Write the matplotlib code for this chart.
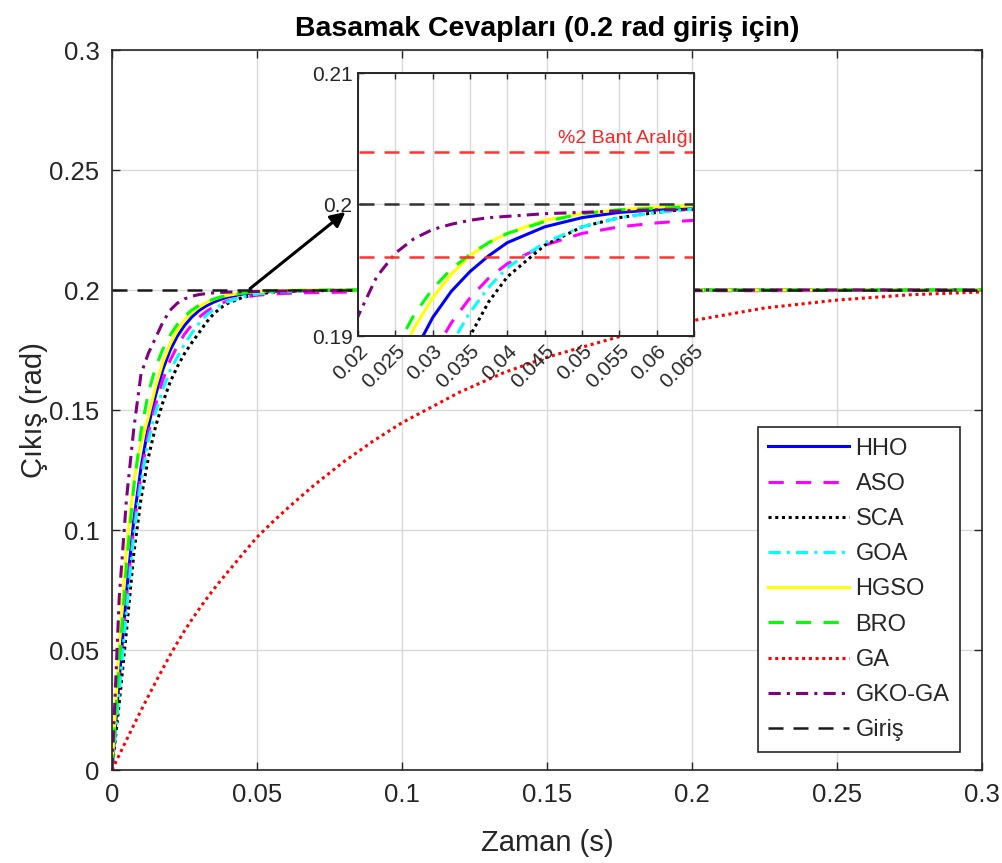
import matplotlib
matplotlib.use("Agg")
import matplotlib.pyplot as plt

plt.rcParams['font.family'] = ['Liberation Sans', 'DejaVu Sans']

# ---- data ----
t = [0, 0.0025, 0.005, 0.0075, 0.01, 0.0125, 0.015, 0.0175, 0.02, 0.0225,
     0.025, 0.0275, 0.03, 0.0325, 0.035, 0.0375, 0.04, 0.045, 0.05, 0.055,
     0.06, 0.065, 0.07, 0.08, 0.09, 0.1, 0.12, 0.135, 0.15, 0.175, 0.2,
     0.225, 0.25, 0.275, 0.3]

hho = [0, 0.038, 0.074, 0.104, 0.126, 0.143, 0.156, 0.1668, 0.1748, 0.1807,
       0.1852, 0.1887, 0.1914, 0.1934, 0.1949, 0.1961, 0.1971, 0.1983, 0.1990, 0.1994,
       0.1996, 0.1997, 0.1998, 0.1999, 0.2, 0.2, 0.2, 0.2, 0.2, 0.2, 0.2,
       0.2, 0.2, 0.2, 0.2]
aso = [0, 0.037, 0.072, 0.101, 0.123, 0.140, 0.152, 0.1625, 0.1705, 0.1766,
       0.1816, 0.1854, 0.1886, 0.1910, 0.1929, 0.1944, 0.1955, 0.1969, 0.1978, 0.1983,
       0.1986, 0.1988, 0.1989, 0.1991, 0.1992, 0.1993, 0.1994, 0.1995, 0.1996, 0.1996, 0.1997,
       0.1997, 0.1998, 0.1998, 0.1998]
sca = [0, 0.028, 0.058, 0.090, 0.113, 0.130, 0.143, 0.153, 0.1615, 0.168,
       0.1735, 0.178, 0.1822, 0.1865, 0.1900, 0.1926, 0.1945, 0.1969, 0.1983, 0.1990,
       0.1994, 0.1997, 0.1998, 0.1999, 0.2, 0.2, 0.2, 0.2, 0.2, 0.2, 0.2,
       0.2, 0.2, 0.2, 0.2]
goa = [0, 0.033, 0.066, 0.098, 0.120, 0.137, 0.149, 0.1585, 0.1665, 0.172,
       0.1775, 0.182, 0.1861, 0.1894, 0.1918, 0.1937, 0.1952, 0.1971, 0.1983, 0.1990,
       0.1994, 0.19965, 0.1998, 0.1999, 0.2, 0.2, 0.2, 0.2, 0.2, 0.2, 0.2,
       0.2, 0.2, 0.2, 0.2]
hgso = [0, 0.052, 0.092, 0.120, 0.136, 0.147, 0.1596, 0.1698, 0.1774, 0.1831,
        0.1874, 0.1906, 0.1929, 0.1947, 0.1961, 0.1971, 0.1978, 0.1988, 0.1993, 0.1996,
        0.1998, 0.1999, 0.2, 0.2, 0.2, 0.2, 0.2, 0.2, 0.2, 0.2, 0.2,
        0.2, 0.2, 0.2, 0.2]
bro = [0, 0.045, 0.086, 0.118, 0.141, 0.157, 0.1677, 0.1753, 0.1811, 0.1856,
       0.1890, 0.1916, 0.1936, 0.1951, 0.1962, 0.1971, 0.1978, 0.1987, 0.1993, 0.1996,
       0.1997, 0.19985, 0.1999, 0.2, 0.2, 0.2, 0.2, 0.2, 0.2, 0.2, 0.2,
       0.2, 0.2, 0.2, 0.2]
ga = [0, 0.0063, 0.0125, 0.0187, 0.0248, 0.0307, 0.0365, 0.0422, 0.0478, 0.0530,
      0.0580, 0.0626, 0.0670, 0.0712, 0.0752, 0.0790, 0.0826, 0.0899, 0.0970, 0.1029,
      0.1085, 0.1138, 0.1190, 0.1285, 0.1370, 0.1447, 0.1575, 0.1655, 0.1720, 0.1806, 0.1872,
      0.1925, 0.1958, 0.1980, 0.1992]
gkoga = [0, 0.072, 0.113, 0.142, 0.165, 0.1735, 0.1800, 0.1865, 0.1915, 0.1945,
         0.1963, 0.1974, 0.1981, 0.1985, 0.1988, 0.1990, 0.1991, 0.1993, 0.1994, 0.1995,
         0.1996, 0.1996, 0.1997, 0.1998, 0.1999, 0.1999, 0.2, 0.2, 0.2, 0.2, 0.2,
         0.2, 0.2, 0.2, 0.2]
input_t = [0, 0.3]
input_y = [0.2, 0.2]

band_low, band_high = 0.196, 0.204

names = ['HHO', 'ASO', 'SCA', 'GOA', 'HGSO', 'BRO', 'GA', 'GKO-GA', 'Giriş']
series = [hho, aso, sca, goa, hgso, bro, ga, gkoga]
colors = ['#0000ff', '#ff00ff', '#000000', '#00ffff', '#ffff00', '#00ff00',
          '#ff0000', '#800080']
styles = ['-', (0, (5, 4)), (0, (1, 1.2)), (0, (4, 2, 1, 2)), '-', (0, (5, 4)),
          (0, (1, 1.2)), (0, (4, 2, 1, 2))]

main_xticks = [0, 0.05, 0.1, 0.15, 0.2, 0.25, 0.3]
main_xlabels = ['0', '0.05', '0.1', '0.15', '0.2', '0.25', '0.3']
main_yticks = [0, 0.05, 0.1, 0.15, 0.2, 0.25, 0.3]
main_ylabels = ['0', '0.05', '0.1', '0.15', '0.2', '0.25', '0.3']
ins_xticks = [0.02, 0.025, 0.03, 0.035, 0.04, 0.045, 0.05, 0.055, 0.06, 0.065]
ins_xlabels = ['0.02', '0.025', '0.03', '0.035', '0.04', '0.045', '0.05', '0.055', '0.06', '0.065']
ins_yticks = [0.19, 0.2, 0.21]
ins_ylabels = ['0.19', '0.2', '0.21']

TXT = '#262626'

fig = plt.figure(figsize=(10.03, 8.63), dpi=100)
ax = fig.add_axes([112 / 1003, (863 - 770) / 863, 870 / 1003, 720 / 863])

for y, c, ls, n in zip(series, colors, styles, names):
    ax.plot(t, y, color=c, linestyle=ls, linewidth=2.2, label=n)
ax.plot(input_t, input_y, color='#1a1a1a', linestyle=(0, (6, 4)), linewidth=1.8, label=names[8])

ax.set_xlim(0, 0.3)
ax.set_ylim(0, 0.3)
ax.set_xticks(main_xticks)
ax.set_xticklabels(main_xlabels)
ax.set_yticks(main_yticks)
ax.set_yticklabels(main_ylabels)
ax.tick_params(direction='in', labelsize=18.5, colors=TXT, top=True, right=True,
               length=6, width=1, pad=9)
ax.grid(True, color='#d9d9d9', linewidth=1)
for s in ax.spines.values():
    s.set_color(TXT)
    s.set_linewidth(1.2)
ax.set_xlabel('Zaman (s)', fontsize=21, color=TXT, labelpad=16)
ax.set_ylabel('Çıkış (rad)', fontsize=21, color=TXT, labelpad=1)
ax.set_title('Basamak Cevapları (0.2 rad giriş için)', fontsize=20.5, fontweight='bold',
             color='#000000', pad=10)

leg = ax.legend(loc='lower right', bbox_to_anchor=(0.975, 0.025), fontsize=17,
                frameon=True, fancybox=False, edgecolor=TXT, framealpha=1,
                handlelength=3.4, handletextpad=0.3, labelspacing=0.56,
                borderpad=0.45, borderaxespad=0.0)
leg.get_frame().set_linewidth(1.2)
for txt in leg.get_texts():
    txt.set_color(TXT)

# arrow from curve to the inset
ax.annotate('', xy=(0.0805, 0.2325), xytext=(0.0476, 0.2006),
            arrowprops=dict(arrowstyle='-|>', color='black', lw=2.2,
                            mutation_scale=22, shrinkA=0, shrinkB=0))

# ---- inset ----
ins = fig.add_axes([358 / 1003, (863 - 336) / 863, 336 / 1003, 263 / 863])
ins.set_facecolor('white')
for y, c, ls in zip(series, colors, styles):
    ins.plot(t, y, color=c, linestyle=ls, linewidth=2.2)
ins.plot(input_t, input_y, color='#333333', linestyle=(0, (6, 4)), linewidth=1.8)
ins.plot([0, 0.3], [band_low, band_low], color='#ff3333', linestyle=(0, (6, 4)), linewidth=1.8)
ins.plot([0, 0.3], [band_high, band_high], color='#ff3333', linestyle=(0, (6, 4)), linewidth=1.8)
ins.text(0.0649, 0.20435, '%2 Bant Aralığı', color='#ff2020', fontsize=14,
         ha='right', va='bottom')
ins.set_xlim(0.02, 0.065)
ins.set_ylim(0.19, 0.21)
ins.set_xticks(ins_xticks)
ins.set_xticklabels(ins_xlabels, rotation=45, ha='right', va='top', rotation_mode='anchor')
ins.set_yticks(ins_yticks)
ins.set_yticklabels(ins_ylabels)
ins.tick_params(direction='in', labelsize=15, colors=TXT, top=True, right=True,
                length=4, width=1, pad=4)
ins.grid(True, color='#d9d9d9', linewidth=1)
for s in ins.spines.values():
    s.set_color(TXT)
    s.set_linewidth(1.4)

fig.savefig('out.png', dpi=100, facecolor='white')
